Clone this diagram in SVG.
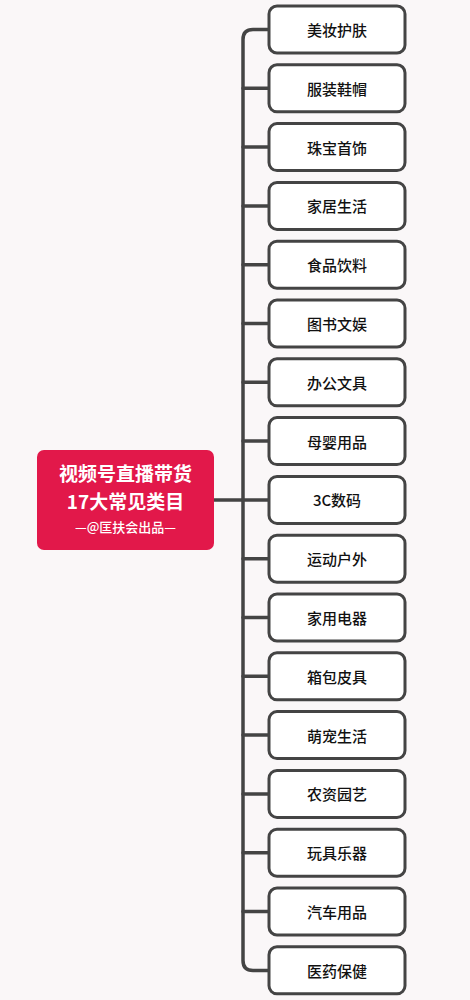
<svg xmlns="http://www.w3.org/2000/svg" width="470" height="1000" viewBox="0 0 470 1000">
<style>
.bg{fill:#faf7f8}
.box{fill:#ffffff;stroke:#444444;stroke-width:3}
.lbl{font-family:"Noto Sans CJK SC","Noto Sans",sans-serif;font-size:15px;font-weight:500;fill:#111111;text-anchor:middle;dominant-baseline:central}
.con{fill:none;stroke:#444444;stroke-width:3.5;stroke-linecap:round;stroke-linejoin:round}
.rt{font-family:"Noto Sans CJK SC","Noto Sans",sans-serif;fill:#ffffff;text-anchor:middle;font-weight:bold}
.sub{font-family:"Noto Sans CJK SC","Noto Sans",sans-serif;fill:#ffffff;text-anchor:middle;font-weight:500;font-size:13px}
</style>
<rect class="bg" x="0" y="0" width="470" height="1000"/>
<g id="connectors">
<path class="con" d="M214 500 H243"/>
<path class="con" d="M268 29.5 H253 Q243 29.5 243 39.5 V960.5 Q243 970.5 253 970.5 H268"/>
<path class="con" d="M243 88.3 H268 M243 147.1 H268 M243 205.9 H268 M243 264.7 H268 M243 323.5 H268 M243 382.3 H268 M243 441.1 H268 M243 499.9 H268 M243 558.7 H268 M243 617.5 H268 M243 676.3 H268 M243 735.1 H268 M243 793.9 H268 M243 852.7 H268 M243 911.5 H268"/>
</g>
<g id="root">
<rect x="37" y="450" width="177" height="100" rx="7" fill="#e2184a"/>
<text class="rt" x="125.5" y="481" font-size="19">视频号直播带货</text>
<text class="rt" x="125.5" y="509" font-size="19">17大常见类目</text>
<text class="sub" x="125.5" y="532">—@匡扶会出品—</text>
</g>
<g id="n1"><rect class="box" x="269" y="6" width="136" height="47" rx="8"/><text class="lbl" x="337" y="29.5">美妆护肤</text></g>
<g id="n2"><rect class="box" x="269" y="64.8" width="136" height="47" rx="8"/><text class="lbl" x="337" y="88.3">服装鞋帽</text></g>
<g id="n3"><rect class="box" x="269" y="123.6" width="136" height="47" rx="8"/><text class="lbl" x="337" y="147.1">珠宝首饰</text></g>
<g id="n4"><rect class="box" x="269" y="182.4" width="136" height="47" rx="8"/><text class="lbl" x="337" y="205.9">家居生活</text></g>
<g id="n5"><rect class="box" x="269" y="241.2" width="136" height="47" rx="8"/><text class="lbl" x="337" y="264.7">食品饮料</text></g>
<g id="n6"><rect class="box" x="269" y="300" width="136" height="47" rx="8"/><text class="lbl" x="337" y="323.5">图书文娱</text></g>
<g id="n7"><rect class="box" x="269" y="358.8" width="136" height="47" rx="8"/><text class="lbl" x="337" y="382.3">办公文具</text></g>
<g id="n8"><rect class="box" x="269" y="417.6" width="136" height="47" rx="8"/><text class="lbl" x="337" y="441.1">母婴用品</text></g>
<g id="n9"><rect class="box" x="269" y="476.4" width="136" height="47" rx="8"/><text class="lbl" x="337" y="499.9">3C数码</text></g>
<g id="n10"><rect class="box" x="269" y="535.2" width="136" height="47" rx="8"/><text class="lbl" x="337" y="558.7">运动户外</text></g>
<g id="n11"><rect class="box" x="269" y="594" width="136" height="47" rx="8"/><text class="lbl" x="337" y="617.5">家用电器</text></g>
<g id="n12"><rect class="box" x="269" y="652.8" width="136" height="47" rx="8"/><text class="lbl" x="337" y="676.3">箱包皮具</text></g>
<g id="n13"><rect class="box" x="269" y="711.6" width="136" height="47" rx="8"/><text class="lbl" x="337" y="735.1">萌宠生活</text></g>
<g id="n14"><rect class="box" x="269" y="770.4" width="136" height="47" rx="8"/><text class="lbl" x="337" y="793.9">农资园艺</text></g>
<g id="n15"><rect class="box" x="269" y="829.2" width="136" height="47" rx="8"/><text class="lbl" x="337" y="852.7">玩具乐器</text></g>
<g id="n16"><rect class="box" x="269" y="888" width="136" height="47" rx="8"/><text class="lbl" x="337" y="911.5">汽车用品</text></g>
<g id="n17"><rect class="box" x="269" y="946.8" width="136" height="47" rx="8"/><text class="lbl" x="337" y="970.3">医药保健</text></g>
</svg>
